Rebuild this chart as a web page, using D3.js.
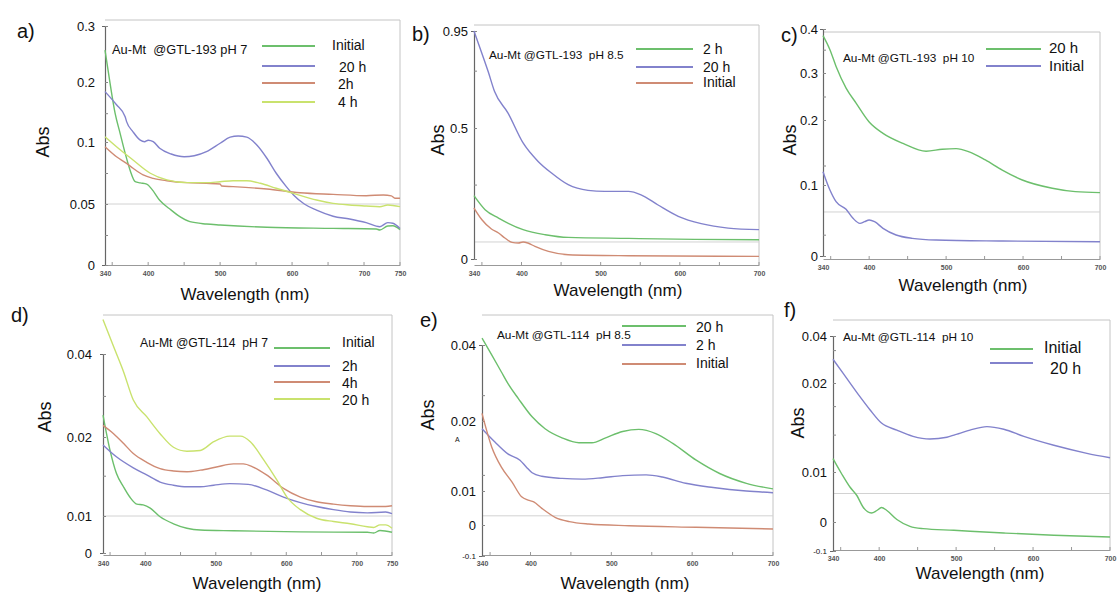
<!doctype html>
<html>
<head>
<meta charset="utf-8">
<title>Au-Mt UV-vis spectra</title>
<style>
  body { margin: 0; background: #fff; font-family: 'Liberation Sans', Arial, sans-serif; }
  text { fill: #111; }
  .xtick text { fill: #555; font-size: 7px; }
</style>
</head>
<body>
<div id="chart"></div>
<script src="https://cdnjs.cloudflare.com/ajax/libs/d3/7.8.5/d3.min.js"></script>
<script>

// ---- data: [wavelength nm, Abs] ----
var aInitial = [[340,0.257],[347,0.198],[354,0.148],[361,0.1145],[368,0.091],[375,0.077],[382,0.068],[389,0.067],[398,0.066],[405,0.062],[416,0.053],[432,0.045],[444,0.0396],[458,0.0355],[481,0.0336],[500,0.0328],[565,0.0309],[657,0.030],[717,0.0295],[722,0.0287],[733,0.032],[740,0.0322],[750,0.029]];
var a20h = [[340,0.184],[356,0.162],[368,0.142],[370,0.134],[379,0.117],[389,0.103],[395,0.1005],[400,0.103],[407,0.1005],[416,0.0949],[432,0.0903],[450,0.0881],[464,0.0889],[481,0.0922],[500,0.099],[514,0.108],[525,0.110],[537,0.108],[551,0.0976],[565,0.0869],[578,0.0748],[592,0.064],[602,0.0573],[617,0.05],[634,0.045],[657,0.040],[680,0.0377],[703,0.0347],[722,0.0314],[733,0.0347],[740,0.0342],[750,0.030]];
var a2h = [[340,0.0962],[356,0.0881],[370,0.0828],[379,0.0788],[393,0.0734],[407,0.0707],[426,0.0688],[454,0.0672],[481,0.0667],[500,0.0661],[502,0.0645],[518,0.064],[565,0.0621],[611,0.0591],[657,0.0578],[703,0.0567],[727,0.0573],[738,0.0565],[743,0.0546],[750,0.0546]];
var a4h = [[340,0.1088],[356,0.0962],[379,0.0855],[403,0.0748],[426,0.0694],[454,0.0672],[481,0.0672],[500,0.068],[518,0.0688],[537,0.0688],[556,0.0667],[578,0.0627],[602,0.0586],[634,0.0532],[657,0.0505],[680,0.0492],[703,0.0484],[722,0.0478],[733,0.0492],[750,0.0478]];

var b2h = [[340,0.2416],[354,0.188],[371,0.156],[402,0.112],[430,0.0927],[459,0.0824],[535,0.0786],[619,0.0748],[700,0.0737]];
var b20h = [[340,0.95],[350,0.846],[358,0.761],[366,0.669],[383,0.569],[402,0.443],[421,0.3725],[438,0.328],[459,0.2836],[484,0.262],[505,0.258],[535,0.258],[551,0.245],[572,0.207],[598,0.163],[627,0.135],[661,0.118],[700,0.112]];
var bInitial = [[340,0.1947],[350,0.15],[362,0.1145],[371,0.0992],[379,0.0802],[388,0.0634],[396,0.061],[402,0.0649],[408,0.061],[417,0.048],[434,0.029],[459,0.0164],[535,0.0126],[700,0.0099]];

var c20h = [[340,0.385],[349,0.353],[357,0.315],[370,0.268],[383,0.236],[400,0.197],[418,0.1795],[444,0.164],[474,0.152],[495,0.155],[513,0.156],[530,0.151],[551,0.1385],[573,0.123],[599,0.1077],[638,0.0954],[668,0.0906],[700,0.0892]];
var cInitial = [[340,0.1205],[349,0.093],[357,0.0765],[370,0.0658],[379,0.0531],[388,0.046],[394,0.0483],[400,0.0507],[407,0.0483],[418,0.039],[435,0.0296],[456,0.0249],[487,0.0225],[573,0.0211],[700,0.0201]];

var dInitial = [[340,0.0253],[350,0.0183],[359,0.0154],[369,0.0137],[378,0.0124],[388,0.0115],[397,0.0114],[407,0.011],[421,0.0098],[440,0.0079],[459,0.0067],[478,0.0062],[525,0.006],[620,0.0057],[715,0.0056],[724,0.0054],[733,0.0061],[750,0.0056]];
var d2h = [[340,0.019],[359,0.0175],[383,0.0161],[402,0.0152],[421,0.0143],[440,0.0139],[459,0.0137],[478,0.0137],[497,0.0139],[520,0.0141],[546,0.014],[572,0.0133],[596,0.0124],[620,0.0117],[643,0.0112],[667,0.0108],[691,0.0105],[715,0.0104],[741,0.0105],[750,0.0103]];
var d4h = [[340,0.0228],[355,0.0208],[369,0.0192],[383,0.0179],[402,0.0168],[421,0.016],[440,0.0157],[459,0.0156],[478,0.0158],[501,0.0162],[525,0.0166],[539,0.0166],[553,0.0162],[572,0.0152],[596,0.0135],[620,0.0124],[643,0.0118],[667,0.0115],[691,0.0113],[715,0.0112],[741,0.0112],[750,0.0113]];
var d20h = [[340,0.0483],[355,0.0418],[369,0.0358],[383,0.0289],[402,0.0249],[421,0.0208],[440,0.0187],[459,0.0182],[478,0.0183],[497,0.0194],[520,0.0202],[535,0.0202],[549,0.0194],[568,0.0171],[587,0.0145],[601,0.0124],[620,0.0108],[643,0.0094],[667,0.0085],[691,0.0079],[715,0.0071],[724,0.0069],[733,0.0076],[741,0.0076],[750,0.0067]];

var e20h = [[340,0.0418],[352,0.0374],[364,0.0329],[372,0.0299],[385,0.0259],[402,0.0211],[418,0.0189],[439,0.0176],[460,0.0169],[476,0.0169],[493,0.0176],[514,0.0185],[534,0.0188],[555,0.0182],[576,0.0168],[605,0.0144],[634,0.0125],[667,0.0111],[700,0.0103]];
var e2h = [[340,0.0189],[356,0.017],[372,0.0153],[387,0.0144],[395,0.0134],[402,0.0126],[414,0.0121],[439,0.0118],[464,0.0117],[489,0.0119],[514,0.0122],[543,0.0123],[563,0.012],[592,0.0111],[626,0.0105],[667,0.01],[700,0.0095]];
var eInitial = [[340,0.022],[352,0.0163],[364,0.0134],[377,0.0113],[389,0.0083],[397,0.0073],[404,0.0068],[414,0.0049],[431,0.0022],[448,0.001],[472,0.0003],[522,-0.0023],[605,-0.0074],[700,-0.0129]];

var fInitial = [[340,0.0115],[351,0.0097],[362,0.007],[371,0.0053],[379,0.003],[390,0.0018],[397,0.0023],[403,0.0029],[410,0.0023],[423,0.0005],[440,-0.0148],[457,-0.0228],[497,-0.0286],[562,-0.0379],[627,-0.0459],[700,-0.0517]];
var f20h = [[340,0.0301],[353,0.0242],[373,0.0187],[388,0.017],[403,0.0155],[423,0.0147],[444,0.014],[466,0.0137],[488,0.0139],[499,0.0142],[503,0.0143],[518,0.0147],[540,0.0151],[562,0.0148],[588,0.014],[627,0.013],[670,0.0121],[700,0.0116]];

// tick values / labels (the scanned y axes are not linear, so each labelled value is a scale stop)
var xTicks750 = [340, 400, 500, 600, 700, 750];
var xTicks700 = [340, 400, 500, 600, 700];
var xMinor750 = [350, 400, 450, 500, 550, 600, 650, 700, 750];
var xMinor700 = [350, 400, 450, 500, 550, 600, 650, 700];

var aYVals = [0, 0.05, 0.1, 0.2, 0.3], aYLabels = ["0", "0.05", "0.1", "0.2", "0.3"];
var bYVals = [0, 0.5, 0.95], bYLabels = ["0", "0.5", "0.95"];
var cYVals = [0, 0.1, 0.2, 0.3, 0.4], cYLabels = ["0", "0.1", "0.2", "0.3", "0.4"];
var dYVals = [0, 0.01, 0.02, 0.04], dYLabels = ["0", "0.01", "0.02", "0.04"];
var eYVals = [-0.1, 0, 0.01, 0.02, 0.04], eYLabels = ["-0.1", "0", "0.01", "0.02", "0.04"];
var fYVals = [-0.1, 0, 0.01, 0.02, 0.04], fYLabels = ["-0.1", "0", "0.01", "0.02", "0.04"];

var green = "#6cbf6c", blue = "#8282cc", brown = "#cf8b74", yellow = "#c9e26d";

var panels = [
  { letter: "a)", note: "Au-Mt  @GTL-193 pH 7", noteSize: 12.8,
    box: { l: 105, t: 20, r: 400, b: 265 }, xMax: 750, xTicks: xTicks750, xMinor: xMinor750,
    yVals: aYVals, yLabels: aYLabels, yPix: [265, 204, 142, 82, 26], yLabelX: 95,
    yMinor: [0.148, 0.075, 0.0246], grid: 0.05,
    series: [["Initial", aInitial, green], ["20 h", a20h, blue], ["2h", a2h, brown], ["4 h", a4h, yellow]],
    legend: { x1: 262, x2: 315, y: [46, 66, 83, 102], ty: [45, 67, 84, 102], tx: [332, 339, 338, 338], size: 14 },
    letterPos: [17, 38], notePos: [112, 54], absPos: [43, 142], wavePos: [245, 300] },
  { letter: "b)", note: "Au-Mt @GTL-193  pH 8.5", noteSize: 11.8,
    box: { l: 474, t: 25, r: 759, b: 265 }, xMax: 700, xTicks: xTicks700, xMinor: xMinor700,
    yVals: bYVals, yLabels: bYLabels, yPix: [259, 128, 31], yLabelX: 468,
    yMinor: [0.766, 0.284], grid: 0.065,
    series: [["2 h", b2h, green], ["20 h", b20h, blue], ["Initial", bInitial, brown]],
    legend: { x1: 636, x2: 693, y: [49, 67, 83], ty: [49, 67, 82], tx: [703, 703, 703], size: 14 },
    letterPos: [412, 41], notePos: [489, 59], absPos: [438, 140], wavePos: [618, 296] },
  { letter: "c)", note: "Au-Mt @GTL-193  pH 10", noteSize: 11.8,
    box: { l: 823, t: 32, r: 1100, b: 259 }, xMax: 700, xTicks: xTicks700, xMinor: xMinor700,
    yVals: cYVals, yLabels: cYLabels, yPix: [256, 185, 120, 73, 29], yLabelX: 818,
    yMinor: [0.353, 0.25, 0.13, 0.03], grid: 0.062,
    series: [["20 h", c20h, green], ["Initial", cInitial, blue]],
    legend: { x1: 986, x2: 1041, y: [49, 66], ty: [48, 66], tx: [1049, 1049], size: 15 },
    letterPos: [781, 42], notePos: [843, 62], absPos: [790, 140], wavePos: [963, 291] },
  { letter: "d)", note: "Au-Mt @GTL-114  pH 7", noteSize: 12.2,
    box: { l: 103, t: 315, r: 392, b: 555 }, xMax: 750, xTicks: xTicks750, xMinor: xMinor750,
    yVals: dYVals, yLabels: dYLabels, yPix: [553, 516, 437, 354], yLabelX: 92,
    yMinor: [0.0299, 0.0151], grid: 0.01,
    series: [["Initial", dInitial, green], ["2h", d2h, blue], ["4h", d4h, brown], ["20 h", d20h, yellow]],
    legend: { x1: 274, x2: 330, y: [348, 366, 382, 399], ty: [342, 366, 383, 400], tx: [342, 342, 342, 342], size: 14 },
    letterPos: [11, 322], notePos: [140, 347], absPos: [45, 417], wavePos: [257, 589] },
  { letter: "e)", note: "Au-Mt @GTL-114  pH 8.5", noteSize: 11.8,
    box: { l: 482, t: 315, r: 773, b: 555 }, xMax: 700, xTicks: xTicks700, xMinor: xMinor700,
    yVals: eYVals, yLabels: eYLabels, yPix: [556, 525, 491, 421, 345], yLabelX: 476,
    yMinor: [0.0268, 0.0123], grid: 0.0027,
    series: [["20 h", e20h, green], ["2 h", e2h, blue], ["Initial", eInitial, brown]],
    legend: { x1: 622, x2: 686, y: [326, 345, 364], ty: [327, 345, 363], tx: [696, 696, 696], size: 14 },
    letterPos: [420, 327], notePos: [497, 339], absPos: [428, 415], wavePos: [625, 589], mark: [455, 442] },
  { letter: "f)", note: "Au-Mt @GTL-114  pH 10", noteSize: 11.8,
    box: { l: 833, t: 320, r: 1110, b: 550 }, xMax: 700, xTicks: xTicks700, xMinor: xMinor700,
    yVals: fYVals, yLabels: fYLabels, yPix: [551, 522, 472, 383, 336], yLabelX: 827,
    yMinor: [0.034, 0.0174, 0.0142], grid: 0.0057,
    series: [["Initial", fInitial, green], ["20 h", f20h, blue]],
    legend: { x1: 990, x2: 1033, y: [349, 363], ty: [347, 368], tx: [1044, 1050], size: 16 },
    letterPos: [784, 317], notePos: [843, 341], absPos: [798, 423], wavePos: [980, 579] }
];

var svg = d3.select("#chart").append("svg").attr("width", 1118).attr("height", 599);

panels.forEach(function (p) {
  var box = p.box;
  var x = d3.scaleLinear().domain([340, p.xMax]).range([box.l, box.r]);
  var y = d3.scaleLinear().domain(p.yVals).range(p.yPix);
  var g = svg.append("g");

  // frame (top + right) and reference line
  g.append("path")
    .attr("d", "M" + box.l + "," + box.t + "H" + box.r + "V" + box.b)
    .attr("fill", "none").attr("stroke", "#c4c4c4").attr("stroke-width", 1);
  g.append("line")
    .attr("x1", box.l).attr("x2", box.r)
    .attr("y1", y(p.grid)).attr("y2", y(p.grid))
    .attr("stroke", "#d2d2d2").attr("stroke-width", 1);

  // bottom axis
  var xAxis = d3.axisBottom(x).tickValues(p.xTicks).tickSize(0).tickPadding(6);
  var xg = g.append("g").attr("class", "xtick")
    .attr("transform", "translate(0," + box.b + ")").call(xAxis);
  xg.select(".domain").attr("stroke", "#999");
  xg.selectAll("text").attr("font-family", "'Liberation Sans', Arial, sans-serif").attr("font-weight", "bold");
  g.selectAll(".xminor").data(p.xMinor).join("line")
    .attr("x1", function (d) { return x(d); }).attr("x2", function (d) { return x(d); })
    .attr("y1", box.b).attr("y2", box.b - 3)
    .attr("stroke", "#999");

  // left axis (labelled stops of the piecewise scale)
  var yAxis = d3.axisLeft(y).tickValues(p.yVals.concat(p.yMinor)).tickSize(3).tickFormat("");
  var yg = g.append("g").attr("transform", "translate(" + box.l + ",0)").call(yAxis);
  yg.select(".domain").attr("stroke", "#666").attr("stroke-width", 1.2);
  yg.selectAll(".tick line").attr("stroke", "#888").attr("x2", 3);

  g.selectAll(".ylab").data(p.yVals).join("text")
    .attr("x", p.yLabelX)
    .attr("y", function (d) { return y(d) + (d < 0 ? 3 : 4.5); })
    .attr("text-anchor", "end")
    .attr("font-size", function (d) { return d < 0 ? 8 : 13; })
    .text(function (d, i) { return p.yLabels[i]; });

  // spectra
  var line = d3.line()
    .x(function (d) { return x(d[0]); })
    .y(function (d) { return y(d[1]); })
    .curve(d3.curveMonotoneX);
  g.selectAll(".spec").data(p.series).join("path")
    .attr("d", function (s) { return line(s[1]); })
    .attr("fill", "none")
    .attr("stroke", function (s) { return s[2]; })
    .attr("stroke-width", 1.4);

  // legend
  var lg = g.append("g");
  lg.selectAll("line").data(p.series).join("line")
    .attr("x1", p.legend.x1).attr("x2", p.legend.x2)
    .attr("y1", function (s, i) { return p.legend.y[i]; })
    .attr("y2", function (s, i) { return p.legend.y[i]; })
    .attr("stroke", function (s) { return s[2]; })
    .attr("stroke-width", 2.2);
  lg.selectAll("text").data(p.series).join("text")
    .attr("x", function (s, i) { return p.legend.tx[i]; })
    .attr("y", function (s, i) { return p.legend.ty[i] + p.legend.size * 0.36; })
    .attr("font-size", p.legend.size)
    .text(function (s) { return s[0]; });

  // titles
  g.append("text").attr("x", p.letterPos[0]).attr("y", p.letterPos[1])
    .attr("font-size", 20).text(p.letter);
  g.append("text").attr("x", p.notePos[0]).attr("y", p.notePos[1])
    .attr("font-size", p.noteSize).style("white-space", "pre").text(p.note);
  g.append("text")
    .attr("transform", "translate(" + p.absPos[0] + "," + p.absPos[1] + ") rotate(-90)")
    .attr("text-anchor", "middle").attr("dy", "0.35em")
    .attr("font-size", 18).text("Abs");
  g.append("text").attr("x", p.wavePos[0]).attr("y", p.wavePos[1])
    .attr("text-anchor", "middle").attr("font-size", 17).text("Wavelength (nm)");
  if (p.mark) {
    g.append("text").attr("x", p.mark[0]).attr("y", p.mark[1])
      .attr("font-size", 7).attr("fill", "#555").text("A");
  }
});

</script>
</body>
</html>
